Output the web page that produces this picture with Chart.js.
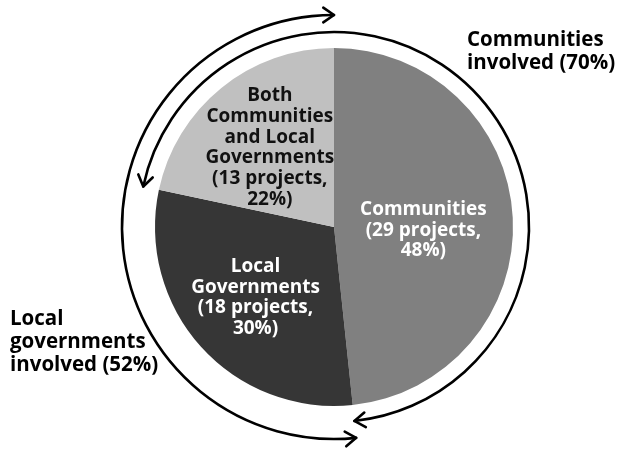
<!DOCTYPE html>
<html>
<head>
<meta charset="utf-8">
<script src="https://cdn.jsdelivr.net/npm/chart.js@4/dist/chart.umd.min.js"></script>
<style>
	html, body { margin: 0; padding: 0; background: #ffffff; }
	#wrap { width: 621px; height: 449px; }
</style>
</head>
<body>
<div id="wrap"><canvas id="projectsPie" width="621" height="449"></canvas></div>
<script>
// who carried out the projects
const sliceNames = [
	['Communities'],
	['Local', 'Governments'],
	['Both', 'Communities', 'and Local', 'Governments']
];
const projectCounts = [29, 18, 13];
const projectShares = [48, 30, 22];

// overlapping groups shown by the double arrows round the pie
const groupNames = [['Communities', 'involved (70%)'], ['Local', 'governments', 'involved (52%)']];
const groupSlices = [[2, 0], [1, 2]]; // first slice -> last slice, clockwise

const sliceColors = ['#808080', '#363636', '#c0c0c0'];
const sliceTextColors = ['#ffffff', '#ffffff', '#111111'];
const labelRadius = [0.5, 0.59, 0.57];
const labelNudgeY = [8, 0, 0];

const FONT = 'bold 19px "Open Sans", sans-serif';
const BIG_FONT = 'bold 20.5px "Open Sans", sans-serif';

document.addEventListener('DOMContentLoaded', function()
{
	drawPie();
});

function sliceText(i)
{
	return sliceNames[i].concat([`(${projectCounts[i]} projects,`, `${projectShares[i]}%)`]);
}

// texte dans chaque part, place au milieu de l'arc
const sliceLabelsPlugin = {
	id: 'sliceLabels',
	afterDatasetsDraw(chart) {
		const ctx = chart.ctx;
		const arcs = chart.getDatasetMeta(0).data;
		ctx.save();
		ctx.font = FONT;
		ctx.textAlign = 'center';
		ctx.textBaseline = 'middle';
		arcs.forEach((arc, i) => {
			const mid = (arc.startAngle + arc.endAngle) / 2;
			const r = arc.outerRadius * labelRadius[i];
			const cx = arc.x + Math.cos(mid) * r;
			const cy = arc.y + Math.sin(mid) * r + labelNudgeY[i];
			const lines = sliceText(i);
			const lh = 20.7;
			ctx.fillStyle = sliceTextColors[i];
			lines.forEach((line, k) => {
				ctx.fillText(line, cx, cy + (k - (lines.length - 1) / 2) * lh);
			});
		});
		ctx.restore();
	}
};

function arrowHead(ctx, tipX, tipY, dirX, dirY)
{
	const len = 13;
	const spread = 0.6;
	ctx.beginPath();
	[-spread, spread].forEach(s => {
		const bx = -(dirX * Math.cos(s) - dirY * Math.sin(s));
		const by = -(dirX * Math.sin(s) + dirY * Math.cos(s));
		ctx.moveTo(tipX + bx * len, tipY + by * len);
		ctx.lineTo(tipX, tipY);
	});
	ctx.stroke();
}

// arcs a double fleche autour du camembert (communes / gouvernements locaux impliques)
const groupArrowsPlugin = {
	id: 'groupArrows',
	afterDraw(chart) {
		const ctx = chart.ctx;
		const arcs = chart.getDatasetMeta(0).data;
		const gaps = [16, 33];
		ctx.save();
		ctx.strokeStyle = '#000000';
		ctx.lineWidth = 2.6;
		ctx.lineCap = 'round';
		ctx.lineJoin = 'round';
		groupSlices.forEach((pair, g) => {
			const first = arcs[pair[0]];
			const last = arcs[pair[1]];
			const x = first.x, y = first.y;
			const r = first.outerRadius + gaps[g];
			let a0 = first.startAngle;
			let a1 = last.endAngle;
			if (a1 < a0) a1 += Math.PI * 2;
			ctx.beginPath();
			ctx.arc(x, y, r, a0, a1);
			ctx.stroke();
			arrowHead(ctx, x + Math.cos(a1) * r, y + Math.sin(a1) * r, -Math.sin(a1), Math.cos(a1));
			arrowHead(ctx, x + Math.cos(a0) * r, y + Math.sin(a0) * r, Math.sin(a0), -Math.cos(a0));
		});

		// legendes des groupes
		ctx.font = BIG_FONT;
		ctx.fillStyle = '#000000';
		ctx.textAlign = 'left';
		ctx.textBaseline = 'alphabetic';
		const spots = [[467, 46], [10, 325]];
		groupNames.forEach((lines, g) => {
			lines.forEach((line, k) => {
				ctx.fillText(line, spots[g][0], spots[g][1] + k * 23);
			});
		});
		ctx.restore();
	}
};

function drawPie()
{
	const ctx = document.getElementById('projectsPie').getContext('2d');
	new Chart(ctx, {
		type: 'pie',
		data: {
			labels: sliceNames.map(n => n.join(' ')),
			datasets: [{
				data: projectCounts,
				backgroundColor: sliceColors,
				borderWidth: 0,
				radius: 179
			}]
		},
		options: {
			responsive: false,
			animation: false,
			layout: { padding: { left: 155, right: 108, top: 48, bottom: 43 } },
			plugins: {
				legend: { display: false },
				tooltip: { enabled: false }
			}
		},
		plugins: [sliceLabelsPlugin, groupArrowsPlugin]
	});
}
</script>
</body>
</html>
